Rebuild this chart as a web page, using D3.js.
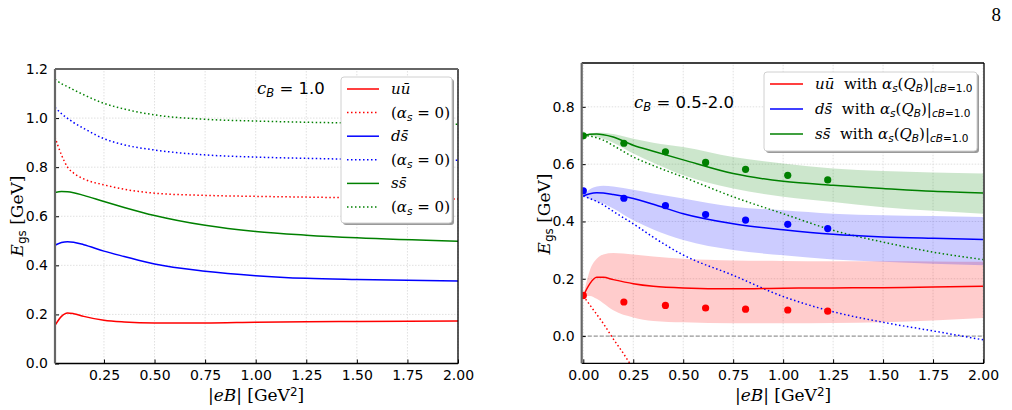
<!DOCTYPE html>
<html>
<head>
<meta charset="utf-8">
<script src="https://cdn.jsdelivr.net/npm/d3@7"></script>
<style>
  body { margin: 0; background: #fff; }
  svg { display: block; }
  .tick text { font-family: "DejaVu Sans", sans-serif; font-size: 14px; fill: #000; }
  .domain { display: none; }
</style>
</head>
<body>
<div id="chart"></div>
<script>
// ---- left panel: c_B = 1.0 ----
const leftX = [0.008, 0.04, 0.07, 0.1, 0.15, 0.25, 0.35, 0.5, 0.75, 1.0, 1.25, 1.5, 2.0];
const leftUU = [0.155, 0.192, 0.206, 0.203, 0.192, 0.176, 0.169, 0.165, 0.165, 0.168, 0.170, 0.171, 0.173];
const leftDS = [0.482, 0.493, 0.496, 0.494, 0.484, 0.458, 0.436, 0.405, 0.376, 0.358, 0.347, 0.342, 0.336];
const leftSS = [0.697, 0.701, 0.700, 0.696, 0.685, 0.660, 0.636, 0.603, 0.563, 0.538, 0.523, 0.512, 0.498];
const leftUU0 = [0.922, 0.85, 0.80, 0.776, 0.752, 0.728, 0.71, 0.694, 0.685, 0.681, 0.678, 0.675, 0.670];
const leftDS0 = [1.044, 1.018, 0.999, 0.982, 0.958, 0.916, 0.891, 0.870, 0.850, 0.841, 0.836, 0.832, 0.828];
const leftSS0 = [1.158, 1.14, 1.128, 1.115, 1.095, 1.06, 1.037, 1.013, 0.995, 0.988, 0.983, 0.980, 0.975];

// ---- right panel: c_B = 0.5-2.0 ----
const rightX = [0, 0.033, 0.067, 0.1, 0.15, 0.25, 0.35, 0.5, 0.75, 1.0, 1.25, 1.5, 1.75, 2.0];
const rightUU = [0.14, 0.183, 0.205, 0.205, 0.197, 0.183, 0.174, 0.168, 0.165, 0.167, 0.168, 0.169, 0.171, 0.174];
const rightUUhi = [0.14, 0.23, 0.27, 0.285, 0.29, 0.285, 0.278, 0.27, 0.264, 0.262, 0.261, 0.261, 0.260, 0.259];
const rightUUlo = [0.14, 0.14, 0.13, 0.115, 0.09, 0.065, 0.053, 0.048, 0.045, 0.045, 0.046, 0.048, 0.054, 0.063];
const rightDS = [0.489, 0.497, 0.5, 0.499, 0.494, 0.48, 0.46, 0.427, 0.392, 0.371, 0.355, 0.346, 0.341, 0.337];
const rightDShi = [0.489, 0.512, 0.522, 0.525, 0.522, 0.511, 0.498, 0.48, 0.451, 0.439, 0.427, 0.422, 0.419, 0.416];
const rightDSlo = [0.489, 0.478, 0.47, 0.463, 0.445, 0.404, 0.372, 0.335, 0.30, 0.282, 0.267, 0.259, 0.252, 0.247];
const rightSS = [0.699, 0.704, 0.705, 0.703, 0.695, 0.666, 0.645, 0.615, 0.567, 0.540, 0.526, 0.515, 0.505, 0.4996];
const rightSShi = [0.70, 0.708, 0.71, 0.71, 0.705, 0.689, 0.675, 0.66, 0.625, 0.602, 0.585, 0.576, 0.571, 0.567];
const rightSSlo = [0.70, 0.70, 0.695, 0.689, 0.675, 0.637, 0.605, 0.561, 0.515, 0.486, 0.468, 0.45, 0.437, 0.427];
const rightSS0 = [0.70, 0.698, 0.692, 0.684, 0.665, 0.625, 0.595, 0.555, 0.486, 0.427, 0.369, 0.328, 0.293, 0.267];
const rightDS0 = [0.489, 0.48, 0.47, 0.458, 0.435, 0.392, 0.345, 0.283, 0.212, 0.138, 0.085, 0.048, 0.018, -0.013];
const rightUU0x = [0, 0.05, 0.1, 0.15, 0.2, 0.25];
const rightUU0 = [0.14, 0.092, 0.044, -0.01, -0.06, -0.115];

const dotX = [0, 0.203, 0.411, 0.612, 0.812, 1.023, 1.223];
const uuDots = [0.142, 0.119, 0.107, 0.098, 0.094, 0.091, 0.087];
const dsDots = [0.507, 0.481, 0.455, 0.424, 0.405, 0.39, 0.375];
const ssDots = [0.699, 0.673, 0.643, 0.606, 0.582, 0.561, 0.545];

const leftXTicks = [0.25, 0.5, 0.75, 1.0, 1.25, 1.5, 1.75, 2.0];
const leftYTicks = [0, 0.2, 0.4, 0.6, 0.8, 1.0, 1.2];
const rightXTicks = [0, 0.25, 0.5, 0.75, 1.0, 1.25, 1.5, 1.75, 2.0];
const rightYTicks = [0, 0.2, 0.4, 0.6, 0.8];

const RED = "#ff0000", BLUE = "#0000ff", GREEN = "#008000";
const SERIF = "'DejaVu Serif', 'Liberation Serif', serif";

let svg = d3.select("#chart").append("svg")
    .attr("width", 1012).attr("height", 410);

// page number
svg.append("text").attr("x", 1001).attr("y", 21)
    .attr("text-anchor", "end")
    .attr("font-family", "'Liberation Serif', serif").attr("font-size", 19)
    .text("8");

// rich text helper: segs = [[text, style]] style: i=italic, sub, sup, s=sans
function rich(g, x, y, segs, size, anchor) {
    let t = g.append("text").attr("x", x).attr("y", y)
        .attr("font-family", SERIF).attr("font-size", size)
        .attr("text-anchor", anchor || "start");
    segs.forEach(s => {
        let st = s[1] || "";
        let sp = t.append("tspan").text(s[0]);
        if (st.includes("i")) sp.attr("font-style", "italic");
        if (st.includes("s")) sp.attr("font-family", "'DejaVu Sans', sans-serif");
        if (st.includes("sub")) sp.attr("font-size", size * 0.7).attr("baseline-shift", "-25%");
        if (st.includes("sup")) sp.attr("font-size", size * 0.7).attr("baseline-shift", "40%");
    });
    return t;
}

function panel(id, x, y, xTicks, yTicks, xFmt) {
    let g = svg.append("g");
    let [x0, x1] = x.range(), [y0, y1] = y.range();
    g.append("clipPath").attr("id", id).append("rect")
        .attr("x", x0).attr("y", y1).attr("width", x1 - x0).attr("height", y0 - y1);

    // grid
    g.append("g").selectAll("line").data(xTicks).join("line")
        .attr("x1", d => x(d)).attr("x2", d => x(d)).attr("y1", y0).attr("y2", y1)
        .attr("stroke", "#d8d8d8").attr("stroke-width", 0.8).attr("stroke-dasharray", "1.5,1.5");
    g.append("g").selectAll("line").data(yTicks).join("line")
        .attr("y1", d => y(d)).attr("y2", d => y(d)).attr("x1", x0).attr("x2", x1)
        .attr("stroke", "#d8d8d8").attr("stroke-width", 0.8).attr("stroke-dasharray", "1.5,1.5");

    let plot = g.append("g").attr("clip-path", `url(#${id})`);

    // axes
    g.append("g").attr("transform", `translate(0,${y0})`)
        .call(d3.axisBottom(x).tickValues(xTicks).tickFormat(d3.format(xFmt))
            .tickSizeInner(-4).tickSizeOuter(0).tickPadding(7));
    g.append("g").attr("transform", `translate(${x0},0)`)
        .call(d3.axisLeft(y).tickValues(yTicks).tickFormat(d3.format(".1f"))
            .tickSizeInner(-4).tickSizeOuter(0).tickPadding(7));
    g.selectAll(".tick line").attr("stroke", "#000");

    return {g, plot, x0, x1, y0, y1};
}

function line(plot, xs, ys, x, y, color, dotted) {
    plot.append("path")
        .datum(xs.map((d, i) => [d, ys[i]]))
        .attr("fill", "none").attr("stroke", color)
        .attr("stroke-width", 1.5)
        .attr("stroke-dasharray", dotted ? "1.5,2.5" : null)
        .attr("d", d3.line().x(d => x(d[0])).y(d => y(d[1])).curve(d3.curveMonotoneX));
}

function band(plot, xs, lo, hi, x, y, color) {
    plot.append("path")
        .datum(xs.map((d, i) => [d, lo[i], hi[i]]))
        .attr("fill", color).attr("fill-opacity", 0.2)
        .attr("d", d3.area().x(d => x(d[0])).y0(d => y(d[1])).y1(d => y(d[2])).curve(d3.curveMonotoneX));
}

function spines(p, topGray) {
    p.g.append("line").attr("x1", p.x0).attr("x2", p.x1).attr("y1", p.y0).attr("y2", p.y0)
        .attr("stroke", "#000").attr("stroke-width", 1.3);
    p.g.append("line").attr("x1", p.x1).attr("x2", p.x1).attr("y1", p.y0).attr("y2", p.y1)
        .attr("stroke", "#000").attr("stroke-width", 1.3);
    p.g.append("line").attr("x1", p.x0).attr("x2", p.x1).attr("y1", p.y1).attr("y2", p.y1)
        .attr("stroke", topGray ? "#666" : "#000").attr("stroke-width", topGray ? 2.2 : 1.3);
    p.g.append("line").attr("x1", p.x0).attr("x2", p.x0).attr("y1", p.y0).attr("y2", p.y1)
        .attr("stroke", "#666").attr("stroke-width", 2.2);
}

function legendBox(g, x, y, w, h) {
    g.append("rect").attr("x", x + 2).attr("y", y + 2).attr("width", w).attr("height", h)
        .attr("rx", 3).attr("fill", "#9a9a9a");
    g.append("rect").attr("x", x).attr("y", y).attr("width", w).attr("height", h)
        .attr("rx", 3).attr("fill", "#fff").attr("stroke", "#d0d0d0").attr("stroke-width", 1);
}

function axisLabels(g, cx, cyLabel, xLab) {
    rich(g, cx, 401, [["|", ""], ["eB", "i"], ["| [GeV", ""], ["2", "sup"], ["]", ""]], 17, "middle");
    let t = rich(g, 0, 0, [["E", "i"], ["gs", "sub"], [" [GeV]", ""]], 17, "middle");
    t.attr("transform", `translate(${xLab},${cyLabel}) rotate(-90)`);
}

// ---------------- left ----------------
let xL = d3.scaleLinear().domain([0.008, 2.0]).range([55, 458]);
let yL = d3.scaleLinear().domain([0, 1.2]).range([363.5, 69]);
let pL = panel("clipL", xL, yL, leftXTicks, leftYTicks, ".2f");
line(pL.plot, leftX, leftUU, xL, yL, RED, false);
line(pL.plot, leftX, leftUU0, xL, yL, RED, true);
line(pL.plot, leftX, leftDS, xL, yL, BLUE, false);
line(pL.plot, leftX, leftDS0, xL, yL, BLUE, true);
line(pL.plot, leftX, leftSS, xL, yL, GREEN, false);
line(pL.plot, leftX, leftSS0, xL, yL, GREEN, true);
spines(pL, true);
axisLabels(pL.g, 256, 216, 23);
rich(pL.g, 257, 94, [["c", "i"], ["B", "isub"], [" = ", ""], ["1.0", "s"]], 16.5);

legendBox(pL.g, 341, 77, 111, 146);
const leftLegend = [
    [RED, false, [["u", "i"], ["ū", "i"]]],
    [RED, true, [["(", ""], ["α", "i"], ["s", "isub"], [" = 0)", ""]]],
    [BLUE, false, [["d", "i"], ["s̄", "i"]]],
    [BLUE, true, [["(", ""], ["α", "i"], ["s", "isub"], [" = 0)", ""]]],
    [GREEN, false, [["s", "i"], ["s̄", "i"]]],
    [GREEN, true, [["(", ""], ["α", "i"], ["s", "isub"], [" = 0)", ""]]]
];
leftLegend.forEach((d, i) => {
    let yy = 89 + i * 23.6;
    pL.g.append("line").attr("x1", 347).attr("x2", 379).attr("y1", yy).attr("y2", yy)
        .attr("stroke", d[0]).attr("stroke-width", 1.5)
        .attr("stroke-dasharray", d[1] ? "1.5,2.5" : null);
    rich(pL.g, 391, yy + 5, d[2], 15);
});

// ---------------- right ----------------
let xR = d3.scaleLinear().domain([-0.008, 2.005]).range([581.7, 984]);
let yR = d3.scaleLinear().domain([-0.095, 0.953]).range([363.3, 63]);
let pR = panel("clipR", xR, yR, rightXTicks, rightYTicks, ".2f");
band(pR.plot, rightX, rightUUlo, rightUUhi, xR, yR, RED);
band(pR.plot, rightX, rightDSlo, rightDShi, xR, yR, BLUE);
band(pR.plot, rightX, rightSSlo, rightSShi, xR, yR, GREEN);
pR.plot.append("line").attr("x1", pR.x0).attr("x2", pR.x1)
    .attr("y1", yR(0)).attr("y2", yR(0))
    .attr("stroke", "#999").attr("stroke-width", 1.2).attr("stroke-dasharray", "4,2");
line(pR.plot, rightUU0x, rightUU0, xR, yR, RED, true);
line(pR.plot, rightX, rightDS0, xR, yR, BLUE, true);
line(pR.plot, rightX, rightSS0, xR, yR, GREEN, true);
line(pR.plot, rightX, rightUU, xR, yR, RED, false);
line(pR.plot, rightX, rightDS, xR, yR, BLUE, false);
line(pR.plot, rightX, rightSS, xR, yR, GREEN, false);
[[uuDots, RED], [dsDots, BLUE], [ssDots, GREEN]].forEach(([vals, c]) => {
    pR.plot.append("g").selectAll("circle").data(dotX).join("circle")
        .attr("cx", d => xR(d)).attr("cy", (d, i) => yR(vals[i]))
        .attr("r", 3.6).attr("fill", c);
});
spines(pR, false);
axisLabels(pR.g, 783, 214, 550);
rich(pR.g, 634, 108, [["c", "i"], ["B", "isub"], [" = ", ""], ["0.5-2.0", "s"]], 16.5);

legendBox(pR.g, 764, 72, 213, 79);
const rightLegend = [
    [RED, [["u", "i"], ["ū", "i"]]],
    [BLUE, [["d", "i"], ["s̄", "i"]]],
    [GREEN, [["s", "i"], ["s̄", "i"]]]
];
rightLegend.forEach((d, i) => {
    let yy = 84 + i * 25;
    pR.g.append("line").attr("x1", 770).attr("x2", 803).attr("y1", yy).attr("y2", yy)
        .attr("stroke", d[0]).attr("stroke-width", 1.5);
    rich(pR.g, 815, yy + 5, d[1].concat([
        ["\u00a0 with ", ""], ["α", "i"], ["s", "isub"], ["(", ""], ["Q", "i"], ["B", "isub"],
        [")|", ""], ["c", "isub"], ["B", "isub"], ["=1.0", "sub"]
    ]), 15);
});
</script>
</body>
</html>
